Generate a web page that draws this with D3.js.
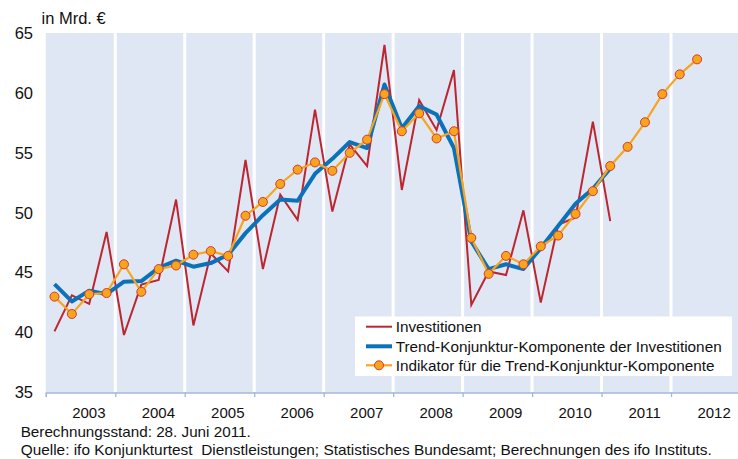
<!DOCTYPE html>
<html><head><meta charset="utf-8">
<script src="https://cdn.jsdelivr.net/npm/d3@7"></script>
<style>
html,body{margin:0;padding:0;background:#fff;}
svg{display:block;font-family:"Liberation Sans",Arial,sans-serif;}
</style></head>
<body>
<svg id="chart" width="738" height="459"></svg>
<script>
const quarters = ["2003Q1","2003Q2","2003Q3","2003Q4","2004Q1","2004Q2","2004Q3","2004Q4",
"2005Q1","2005Q2","2005Q3","2005Q4","2006Q1","2006Q2","2006Q3","2006Q4",
"2007Q1","2007Q2","2007Q3","2007Q4","2008Q1","2008Q2","2008Q3","2008Q4",
"2009Q1","2009Q2","2009Q3","2009Q4","2010Q1","2010Q2","2010Q3","2010Q4",
"2011Q1","2011Q2","2011Q3","2011Q4","2012Q1","2012Q2"];
const years = [2003,2004,2005,2006,2007,2008,2009,2010,2011,2012];
const yTicks = [35,40,45,50,55,60,65];
const investitionen = [40.1,43.1,42.4,48.4,39.8,44.0,44.4,51.1,40.6,46.6,45.1,54.4,45.3,51.5,49.4,58.6,
50.1,55.7,53.9,64.0,51.9,59.4,56.9,61.9,42.3,45.1,44.8,50.2,42.5,49.0,49.6,57.6,49.3];
const trend = [44.05,42.6,43.5,43.2,44.25,44.3,45.4,46.0,45.5,45.8,46.5,48.3,49.8,51.1,51.0,53.25,
54.5,55.9,55.4,60.7,57.05,58.9,58.2,55.4,47.6,45.3,45.7,45.3,47.05,48.9,50.75,52.0,53.7];
const indikator = [43.0,41.55,43.2,43.3,45.7,43.4,45.3,45.6,46.5,46.8,46.4,49.75,50.9,52.4,53.6,54.2,
53.5,55.0,56.1,59.9,56.8,58.3,56.2,56.8,47.9,44.9,46.4,45.7,47.2,48.1,49.9,51.8,53.9,55.5,57.55,59.9,61.55,62.8];
const seriesNames = ["Investitionen","Trend-Konjunktur-Komponente der Investitionen","Indikator für die Trend-Konjunktur-Komponente"];
const unitLabel = "in Mrd. €";
const footnotes = ["Berechnungsstand: 28. Juni 2011.","Quelle: ifo Konjunkturtest  Dienstleistungen; Statistisches Bundesamt; Berechnungen des ifo Instituts."];

const svg = d3.select("#chart");
const x = d3.scaleLinear().domain([2003, 2013]).range([45.8, 740.5]);
const y = d3.scaleLinear().domain([35, 65]).range([392.5, 33]);
const qx = q => { const yr = +q.slice(0,4), k = +q.slice(5); return x(yr + (k - 0.5) / 4); };

// background
svg.append("rect").attr("x", x(2003)).attr("y", y(65)).attr("width", 738 - x(2003)).attr("height", y(35) - y(65)).attr("fill", "#e0e7f4");
svg.append("g").selectAll("line").data(years.slice(1)).join("line")
  .attr("x1", d => x(d)).attr("x2", d => x(d)).attr("y1", y(65)).attr("y2", y(35))
  .attr("stroke", "#fff").attr("stroke-width", 3);

// x axis
const xAxis = d3.axisBottom(x).tickValues(years.concat([2013])).tickSize(4.5).tickFormat("");
const gx = svg.append("g").attr("transform", `translate(0,${y(35)})`).call(xAxis);
gx.select(".domain").attr("stroke", "#9fb8dd").attr("stroke-width", 1.3);
gx.selectAll(".tick line").attr("stroke", "#9fb8dd").attr("stroke-width", 1.3);
svg.append("g").selectAll("text").data(years).join("text")
  .attr("x", d => x(d + 0.62)).attr("y", 418.3).attr("text-anchor", "middle")
  .attr("font-size", 15).attr("fill", "#111").text(d => d);

// y axis labels
const yAxis = d3.axisLeft(y).tickValues(yTicks).tickSize(0).tickPadding(0);
const gy = svg.append("g").attr("transform", "translate(33,0)").call(yAxis);
gy.select(".domain").remove();
gy.selectAll("text").attr("font-size", 16.5).attr("fill", "#111").attr("font-family", "Liberation Sans, Arial, sans-serif");
svg.append("text").attr("x", 41.5).attr("y", 24).attr("font-size", 16.5).attr("fill", "#111").text(unitLabel);

// lines
const line = d3.line().x(d => qx(d.q)).y(d => y(d.v));
const toPts = arr => arr.map((v, i) => ({q: quarters[i], v}));
svg.append("path").datum(toPts(investitionen)).attr("d", line).attr("fill", "none")
  .attr("stroke", "#bc2630").attr("stroke-width", 2).attr("stroke-linejoin", "miter");
svg.append("path").datum(toPts(trend)).attr("d", line).attr("fill", "none")
  .attr("stroke", "#0b72b9").attr("stroke-width", 4).attr("stroke-linejoin", "round");
svg.append("path").datum(toPts(indikator)).attr("d", line).attr("fill", "none")
  .attr("stroke", "#f7a51e").attr("stroke-width", 2.2);
svg.append("g").selectAll("circle").data(toPts(indikator)).join("circle")
  .attr("cx", d => qx(d.q)).attr("cy", d => y(d.v)).attr("r", 4.5)
  .attr("fill", "#f9a51c").attr("stroke", "#cf3a33").attr("stroke-width", 1);

// legend
const lg = svg.append("g");
lg.append("rect").attr("x", 355).attr("y", 316.5).attr("width", 377).attr("height", 59.5).attr("fill", "#fff");
const rowsY = [326.7, 346.3, 365.3];
const colors = ["#bc2630", "#0b72b9", "#f7a51e"];
const widths = [2, 4, 2.2];
seriesNames.forEach((name, i) => {
  lg.append("line").attr("x1", 366).attr("x2", 392).attr("y1", rowsY[i]).attr("y2", rowsY[i])
    .attr("stroke", colors[i]).attr("stroke-width", widths[i]);
  if (i === 2) lg.append("circle").attr("cx", 379).attr("cy", rowsY[i]).attr("r", 4.5)
    .attr("fill", "#f9a51c").attr("stroke", "#cf3a33").attr("stroke-width", 1);
  lg.append("text").attr("x", 395.7).attr("y", rowsY[i] + 5.3).attr("font-size", 15.3).attr("fill", "#111").text(name);
});

// footnotes
const footWidths = [230, 691];
svg.append("g").selectAll("text").data(footnotes).join("text")
  .attr("x", 20.7).attr("y", (d, i) => 436.8 + i * 18.3).attr("font-size", 14.3).attr("fill", "#111")
  .attr("xml:space", "preserve").style("white-space", "pre")
  .attr("textLength", (d, i) => footWidths[i]).attr("lengthAdjust", "spacingAndGlyphs")
  .text(d => d);
</script>
</body></html>
